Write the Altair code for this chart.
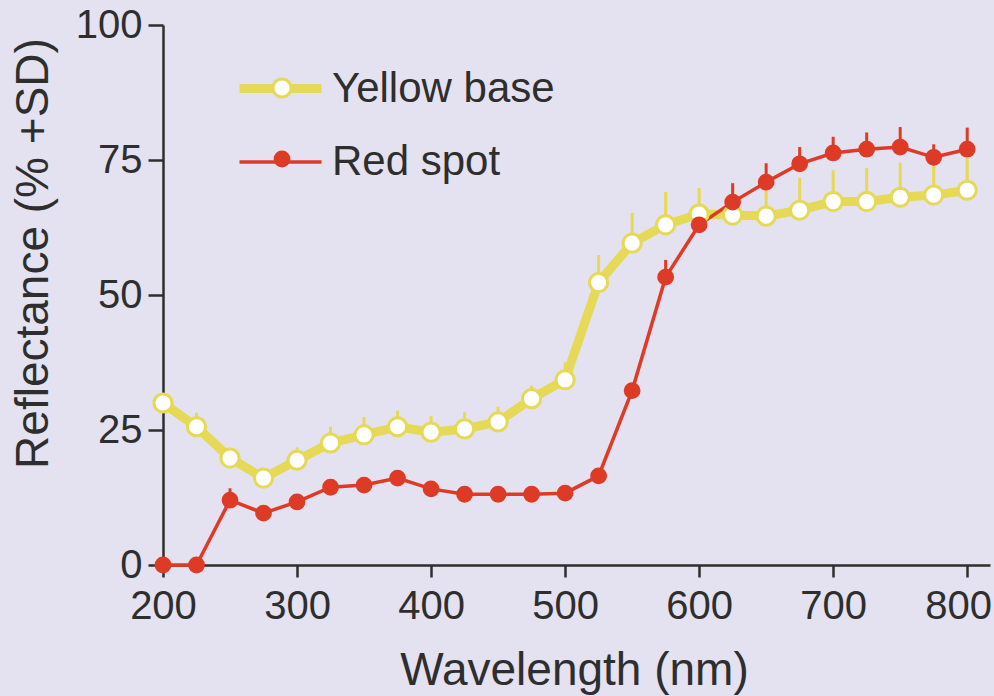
import altair as alt
import pandas as pd

wavelength = [200, 225, 250, 275, 300, 325, 350, 375, 400, 425, 450, 475, 500,
              525, 550, 575, 600, 625, 650, 675, 700, 725, 750, 775, 800]
yellow_base = [30.0, 25.6, 19.8, 16.1, 19.4, 22.6, 24.1, 25.6, 24.6, 25.2, 26.5, 30.8, 34.3,
               52.3, 59.6, 63.0, 65.0, 64.8, 64.6, 65.7, 67.3, 67.3, 68.1, 68.5, 69.4]
yellow_sd = [0.0, 2.6, 0.6, 0.0, 2.4, 3.0, 3.3, 3.0, 3.0, 3.1, 2.8, 2.4, 3.2,
             5.1, 5.6, 6.1, 4.8, 6.0, 6.5, 6.0, 5.8, 6.2, 6.4, 6.1, 6.0]
red_spot = [0.0, 0.0, 12.0, 9.6, 11.7, 14.4, 14.8, 16.1, 14.1, 13.1, 13.1, 13.1, 13.3,
            16.5, 32.3, 53.3, 63.0, 67.2, 70.9, 74.3, 76.3, 77.0, 77.4, 75.5, 77.0]
red_sd = [0.0, 0.0, 2.2, 1.2, 0.5, 1.3, 0.8, 0.8, 0.5, 0.0, 0.0, 0.0, 0.0,
          0.0, 0.0, 3.2, 3.3, 3.5, 3.5, 3.1, 3.0, 3.1, 3.7, 2.4, 4.0]

series_names = ["Yellow base", "Red spot"]
point_keys = ["a", "b"]
x_ticks = [200, 300, 400, 500, 600, 700, 800]
y_ticks = [0, 25, 50, 75, 100]

YELLOW = "#e5d955"
RED = "#dd3b26"
INK = "#2e2e2e"
BG = "#e4e1f0"
FONT = "Liberation Sans"

rows = []
for name, key, vals, sds in [(series_names[0], point_keys[0], yellow_base, yellow_sd),
                             (series_names[1], point_keys[1], red_spot, red_sd)]:
    for w, v, s in zip(wavelength, vals, sds):
        rows.append({"wl": w, "val": v, "top": v + s, "series": name, "pt": key})
df = pd.DataFrame(rows)

x_enc = alt.X(
    "wl:Q",
    scale=alt.Scale(domain=[200, 817], nice=False, zero=False),
    axis=alt.Axis(
        values=x_ticks, title="Wavelength (nm)", grid=False,
        tickSize=12, labelPadding=9, labelFontSize=40, labelFont=FONT, labelColor=INK,
        labelFlush=False, labelOverlap=False,
        labelOffset={"condition": {"test": "datum.value == 800", "value": -9}, "value": 0},
        titleFontSize=46, titleFont=FONT, titleColor=INK, titleFontWeight="normal",
        titleX=411, titleY=119, titleBaseline="alphabetic", titleAlign="center",
        domainColor=INK, domainWidth=2.5, tickColor=INK, tickWidth=2.5,
    ),
)
y_enc = alt.Y(
    "val:Q",
    scale=alt.Scale(domain=[0, 100], nice=False),
    axis=alt.Axis(
        values=y_ticks, title="Reflectance (% +SD)", grid=False,
        tickSize=15, labelPadding=6, labelFontSize=40, labelFont=FONT, labelColor=INK,
        labelFlush=False, labelOverlap=False,
        titleFontSize=46, titleFont=FONT, titleColor=INK, titleFontWeight="normal",
        titleX=-116, titleY=228, titleAngle=270, titleBaseline="alphabetic", titleAlign="center",
        domainColor=INK, domainWidth=2.5, tickColor=INK, tickWidth=2.5,
    ),
)

def error_bars(key, colour):
    return alt.Chart(df).transform_filter(alt.datum.pt == key).mark_rule(
        strokeWidth=3, color=colour
    ).encode(x=x_enc, y=y_enc, y2="top:Q")

rules_y = error_bars(point_keys[0], YELLOW)
rules_r = error_bars(point_keys[1], RED)

lines = alt.Chart(df).mark_line().encode(
    x=x_enc,
    y=y_enc,
    stroke=alt.Stroke(
        "series:N",
        scale=alt.Scale(domain=series_names, range=[YELLOW, RED]),
        legend=alt.Legend(
            title=None, orient="none", legendX=72, legendY=18, symbolType="stroke",
            symbolSize=6724, labelFontSize=42, labelFont=FONT, labelColor=INK,
            labelOffset=6, rowPadding=9, padding=0, symbolOffset=0, labelLimit=0,
        ),
    ),
    strokeWidth=alt.StrokeWidth(
        "series:O",
        scale=alt.Scale(type="ordinal", domain=series_names, range=[9, 3.5]),
    ),
    order="wl:Q",
)

points = alt.Chart(df).mark_point(opacity=1, strokeWidth=3).encode(
    x=x_enc,
    y=y_enc,
    color=alt.Color(
        "pt:N",
        scale=alt.Scale(domain=point_keys, range=[YELLOW, RED]),
        legend=alt.Legend(
            title=None, orient="none", legendX=98, legendY=42, symbolType="circle",
            labelExpr="''", labelFontSize=42, labelFont=FONT, rowPadding=29, padding=0,
            symbolStrokeWidth=3, symbolOpacity=1, symbolOffset=0,
        ),
    ),
    fill=alt.Fill("pt:N", scale=alt.Scale(domain=point_keys, range=["white", RED])),
    size=alt.Size("pt:O", scale=alt.Scale(type="ordinal", domain=point_keys, range=[330, 190])),
)

chart = alt.layer(rules_y, rules_r, lines, points).properties(
    width=827,
    height=540,
    padding={"left": 163, "top": 25, "right": 4, "bottom": 131},
    autosize=alt.AutoSizeParams(type="none"),
).configure(background=BG).configure_view(stroke=None)

chart.save("out.html", embed_options={"renderer": "svg", "actions": False})
